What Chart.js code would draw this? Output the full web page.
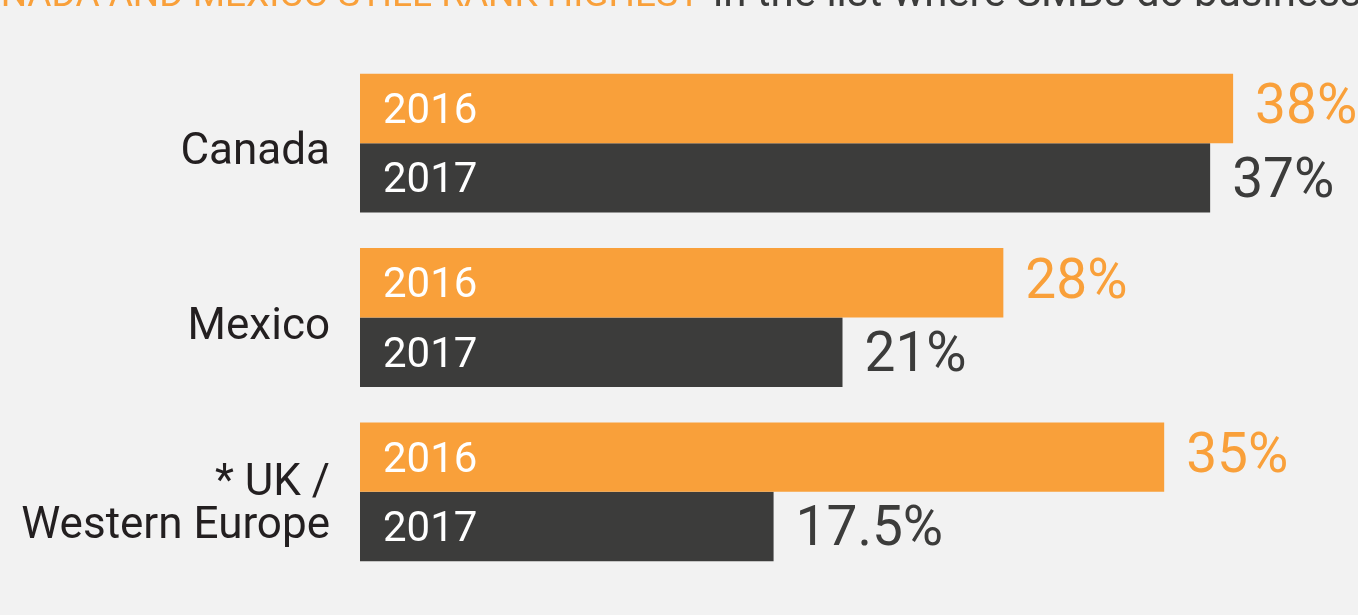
<!DOCTYPE html>
<html>
<head>
<meta charset="utf-8">
<script src="https://cdn.jsdelivr.net/npm/chart.js@4/dist/chart.umd.min.js"></script>
<style>
  html, body { margin: 0; padding: 0; background: #F2F2F2; }
  #wrap { width: 1358px; height: 615px; position: relative; }
</style>
</head>
<body>
<div id="wrap"><canvas id="c" width="1358" height="615"></canvas></div>
<script>
const categories = ['Canada', 'Mexico', ['* UK /', 'Western Europe']];
const seriesNames = ['2016', '2017'];
const values2016 = [38, 28, 35];
const values2017 = [37, 21, 18];
const valueLabels2016 = ['38%', '28%', '35%'];
const valueLabels2017 = ['37%', '21%', '17.5%'];
const titleHighlight = 'CANADA AND MEXICO STILL RANK HIGHEST';
const titleRest = 'in the list where SMBs do business';

const ORANGE = '#F9A03A';
const DARK = '#3C3C3B';
const FONT = 'Roboto, "Noto Sans", sans-serif';

const labelPlugin = {
  id: 'labels',
  afterDatasetsDraw(chart) {
    const ctx = chart.ctx;
    ctx.save();
    const valueLabels = [valueLabels2016, valueLabels2017];
    chart.data.datasets.forEach((ds, di) => {
      const meta = chart.getDatasetMeta(di);
      meta.data.forEach((bar, i) => {
        ctx.fillStyle = '#FFFFFF';
        ctx.font = '42px ' + FONT;
        ctx.textAlign = 'left';
        ctx.textBaseline = 'middle';
        ctx.fillText(seriesNames[di], bar.base + 23, bar.y + 4);
        ctx.fillStyle = ds.backgroundColor;
        ctx.font = '55px ' + FONT;
        ctx.fillText(valueLabels[di][i], bar.x + 22, bar.y + (di === 0 ? 1 : 5));
      });
    });
    // category labels, positioned on the category scale
    const yScale = chart.scales.y;
    ctx.font = '44px ' + FONT;
    ctx.fillStyle = '#231F20';
    ctx.textAlign = 'right';
    ctx.textBaseline = 'alphabetic';
    categories.forEach((cat, i) => {
      const ty = yScale.getPixelForTick(i);
      const x = yScale.right - 30;
      if (Array.isArray(cat)) {
        ctx.fillText(cat[0], x, ty + 3);
        ctx.fillText(cat[1], x, ty + 46);
      } else {
        ctx.fillText(cat, x, ty + 21);
      }
    });
    // cropped title
    ctx.font = '37px ' + FONT;
    ctx.textAlign = 'right';
    ctx.fillStyle = ORANGE;
    ctx.fillText(titleHighlight, 700, 6);
    ctx.font = '42px ' + FONT;
    ctx.textAlign = 'left';
    ctx.fillStyle = DARK;
    ctx.fillText(titleRest, 713, 6);
    ctx.restore();
  }
};

new Chart(document.getElementById('c'), {
  type: 'bar',
  data: {
    labels: categories,
    datasets: [
      { label: seriesNames[0], data: values2016, backgroundColor: ORANGE },
      { label: seriesNames[1], data: values2017, backgroundColor: DARK }
    ]
  },
  options: {
    indexAxis: 'y',
    responsive: false,
    animation: false,
    devicePixelRatio: 1,
    layout: { padding: { left: 0, right: 10, top: 56, bottom: 36 } },
    datasets: { bar: { barPercentage: 1.0, categoryPercentage: 0.7966, borderWidth: 0 } },
    plugins: { legend: { display: false }, tooltip: { enabled: false }, title: { display: false } },
    scales: {
      x: { display: false, min: 0, max: 43 },
      y: {
        grid: { display: false, drawTicks: false },
        border: { display: false },
        afterFit(scale) { scale.width = 360; scale.paddingTop = 0; scale.paddingBottom = 0; },
        ticks: { display: false }
      }
    }
  },
  plugins: [labelPlugin]
});
</script>
</body>
</html>
